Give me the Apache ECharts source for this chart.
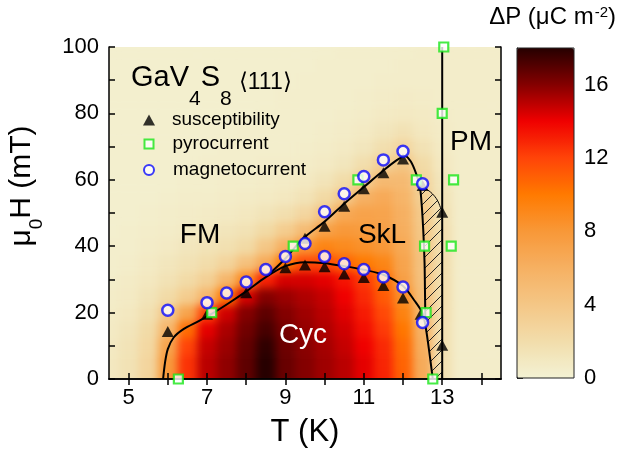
<!DOCTYPE html>
<html>
<head>
<meta charset="utf-8">
<script src="https://cdn.jsdelivr.net/npm/echarts@6.0.0/dist/echarts.min.js"></script>
<style>
  html, body { margin: 0; padding: 0; background: #fff; }
  #wrap { position: relative; width: 617px; height: 453px; }
  #heatclip { position: absolute; left: 109px; top: 47px; width: 392px; height: 332px; overflow: hidden; background: #f3f2d4; }
  #heat { position: absolute; left: -109px; top: -47px; width: 617px; height: 453px; filter: blur(4px); }
  #chart { position: absolute; left: 0; top: 0; width: 617px; height: 453px; }
</style>
</head>
<body>
<div id="wrap">
  <div id="heatclip"><div id="heat"></div></div>
  <div id="chart"></div>
</div>
<script>
const FONT = '"Liberation Sans", Arial, sans-serif';

// delta P map at cell centres (T in K, H in mT)
const heatT = [4.5, 5, 5.5, 6, 6.5, 7, 7.5, 8, 8.5, 9, 9.5, 10, 10.5, 11, 11.5, 12, 12.5, 13, 13.5, 14, 14.5];
const heatH = [0, 5, 10, 15, 20, 25, 30, 35, 40, 45, 50, 55, 60, 65, 70, 75, 80, 85, 90, 95, 100];
const heatRows = [
  [1.0,1.5,2.8,8.0,12.5,15.0,15.8,16.8,18.0,16.6,16.0,15.5,15.0,14.2,13.0,11.0,6.5,1.7,0.5,0.5,0.5],
  [1.0,1.5,2.7,7.8,12.5,15.0,15.8,16.8,18.0,16.6,16.0,15.5,15.0,14.2,12.9,10.8,6.4,1.7,0.5,0.5,0.5],
  [0.9,1.4,2.5,7.0,12.0,14.8,15.6,16.7,17.8,16.5,15.9,15.4,14.8,14.0,12.8,10.6,6.2,1.7,0.5,0.5,0.5],
  [0.8,1.2,2.2,5.5,10.5,14.2,15.3,16.4,17.3,16.3,15.7,15.2,14.6,13.6,12.3,10.1,5.8,1.7,0.5,0.5,0.5],
  [0.7,1.0,1.7,3.8,7.0,12.0,14.6,16.0,16.8,16.0,15.5,15.0,14.3,13.2,11.8,9.4,5.3,1.8,0.5,0.5,0.5],
  [0.6,0.8,1.3,2.2,3.5,5.5,10.0,14.5,16.0,15.6,15.2,14.8,14.0,12.8,11.2,8.6,4.8,1.9,0.5,0.5,0.5],
  [0.5,0.7,1.0,1.5,2.2,3.2,5.5,9.0,13.0,14.5,14.5,14.2,13.4,12.3,10.5,7.4,4.5,1.9,0.5,0.5,0.5],
  [0.4,0.5,0.8,1.1,1.5,2.0,2.8,4.5,6.5,10.0,11.8,11.8,10.8,10.0,9.2,7.0,4.4,1.9,0.5,0.5,0.5],
  [0.4,0.4,0.6,0.8,1.1,1.4,1.7,2.3,4.0,6.0,8.2,9.3,8.9,8.5,8.0,6.6,4.2,1.8,0.5,0.5,0.5],
  [0.3,0.4,0.5,0.6,0.8,1.0,1.2,1.5,2.3,3.5,5.0,7.2,7.9,7.7,7.3,6.2,4.0,1.8,0.5,0.5,0.5],
  [0.3,0.3,0.4,0.5,0.6,0.7,0.8,1.0,1.3,1.8,2.6,4.3,6.6,7.1,7.0,6.0,3.8,1.6,0.5,0.5,0.5],
  [0.3,0.3,0.3,0.4,0.5,0.5,0.6,0.7,0.8,1.0,1.4,2.3,3.8,5.9,6.5,5.6,3.3,1.4,0.5,0.5,0.5],
  [0.3,0.3,0.3,0.3,0.4,0.4,0.5,0.5,0.6,0.7,0.9,1.3,2.1,3.4,5.1,5.1,2.8,1.2,0.5,0.5,0.5],
  [0.3,0.3,0.3,0.3,0.3,0.4,0.4,0.4,0.5,0.5,0.6,0.8,1.1,1.9,3.2,4.1,2.2,1.0,0.5,0.5,0.5],
  [0.3,0.3,0.3,0.3,0.3,0.3,0.4,0.4,0.4,0.4,0.5,0.6,0.8,1.1,1.8,2.6,1.5,0.8,0.5,0.5,0.5],
  [0.3,0.3,0.3,0.3,0.3,0.3,0.3,0.4,0.4,0.4,0.4,0.5,0.6,0.8,1.1,1.5,1.0,0.7,0.5,0.5,0.5],
  [0.3,0.3,0.3,0.3,0.3,0.3,0.3,0.3,0.4,0.4,0.4,0.4,0.5,0.6,0.8,0.9,0.8,0.6,0.5,0.5,0.5],
  [0.3,0.3,0.3,0.3,0.3,0.3,0.3,0.3,0.3,0.4,0.4,0.4,0.4,0.5,0.6,0.7,0.6,0.5,0.5,0.5,0.5],
  [0.3,0.3,0.3,0.3,0.3,0.3,0.3,0.3,0.3,0.3,0.4,0.4,0.4,0.4,0.5,0.5,0.5,0.5,0.5,0.5,0.5],
  [0.3,0.3,0.3,0.3,0.3,0.3,0.3,0.3,0.3,0.3,0.3,0.4,0.4,0.4,0.4,0.5,0.5,0.5,0.5,0.5,0.5],
  [0.3,0.3,0.3,0.3,0.3,0.3,0.3,0.3,0.3,0.3,0.3,0.3,0.4,0.4,0.4,0.4,0.5,0.5,0.5,0.5,0.5]
];

// measured points
const suscT = [6, 7, 8, 9, 9.5, 10, 10.5, 11, 11.5, 12, 12.45, 9.5, 10, 10.5, 11, 11.5, 12, 12.5, 13, 13];
const suscH = [14.3, 19.5, 26, 33.5, 34.3, 33.8, 31.6, 30.6, 28.2, 24.4, 19.5, 42.4, 46, 52, 57.3, 62.1, 66.3, 58.3, 50.2, 10.2];
const pyroT = [6.27, 7.12, 9.2, 10.85, 12.34, 12.55, 12.59, 12.76, 13.0, 13.04, 13.29, 13.23];
const pyroH = [0, 20, 40, 60, 60, 40, 20, 0, 80, 100, 60, 40];
const magT = [6, 7, 7.5, 8, 8.5, 9, 9.5, 10, 10.5, 11, 11.5, 12, 12.5, 10, 10.5, 11, 11.5, 12, 12.5];
const magH = [20.7, 23, 25.9, 29.2, 33, 36.9, 40.8, 36.9, 34.7, 33, 30.7, 27.7, 17, 50.4, 55.8, 61, 66, 68.6, 58.8];

// phase boundaries
const lowerT = [5.88, 5.93, 6.0, 6.15, 6.4, 6.8, 7.2, 7.6, 8.0, 8.5, 9.0, 9.5, 10.0, 10.5, 11.0, 11.5, 12.0, 12.3, 12.5, 12.58, 12.64, 12.7, 12.76];
const lowerH = [0, 5, 9, 12.5, 15, 17.5, 20.2, 23.2, 26.4, 30.7, 34.0, 35.2, 34.9, 34.0, 32.9, 31.4, 28.0, 23.5, 19.8, 15.5, 10.8, 5.5, 0];
const upperT = [8.55, 9.0, 9.45, 10.0, 10.5, 11.0, 11.5, 11.85, 12.05, 12.2, 12.33, 12.43, 12.48, 12.52, 12.55, 12.56, 12.57];
const upperH = [31.2, 36.3, 42.3, 47.4, 52.8, 57.8, 62.8, 66.0, 67.2, 65.5, 62.0, 58.0, 52.0, 44.0, 35.0, 27.0, 18.0];
const pmT = [13, 13];
const pmH = [0, 100];
const arcT = [12.45, 12.62, 12.78, 12.9, 13.0];
const arcH = [58.0, 57.0, 55.4, 53.3, 50.0];
const hatchT = [12.43, 12.48, 12.52, 12.55, 12.56, 12.57, 12.64, 12.7, 12.76, 13.0, 13.0, 12.9, 12.78, 12.62];
const hatchH = [58.0, 52.0, 44.0, 35.0, 27.0, 18.0, 10.8, 5.5, 0, 0, 50.0, 53.3, 55.4, 57.0];

const xTicks = [5, 6, 7, 8, 9, 10, 11, 12, 13, 14];
const xLabels = [5, 7, 9, 11, 13];
const heatColors = ['#f3f2d4','#f2ddab','#f4c786','#f6b062','#f89838','#ff7a00','#ff4408','#f00000','#840000','#260000'];

const pairs = (xs, ys) => xs.map((x, i) => [x, ys[i]]);

const heatData = [];
heatRows.forEach((row, i) => row.forEach((v, j) => heatData.push([heatT[j], heatH[i], v])));

const plot = { left: 109, top: 47, width: 392, height: 332 };

// heat layer (blurred by css underneath the main chart)
const heat = echarts.init(document.getElementById('heat'));
heat.setOption({
  animation: false,
  grid: plot,
  xAxis: { type: 'value', min: 4.5, max: 14.5, show: false },
  yAxis: { type: 'value', min: 0, max: 100, show: false },
  visualMap: { show: false, type: 'continuous', min: 0, max: 18, dimension: 2, inRange: { color: heatColors } },
  series: [{
    type: 'custom',
    data: heatData,
    renderItem: (params, api) => {
      const t = api.value(0), h = api.value(1);
      const a = api.coord([t - 0.25, h + 2.5]);
      const b = api.coord([t + 0.25, h - 2.5]);
      return {
        type: 'rect',
        shape: { x: a[0], y: a[1], width: b[0] - a[0] + 0.6, height: b[1] - a[1] + 0.6 },
        style: { fill: api.visual('color') }
      };
    }
  }]
});

// hatch tile
const tile = document.createElement('canvas');
tile.width = 11; tile.height = 11;
const tc = tile.getContext('2d');
tc.strokeStyle = '#222'; tc.lineWidth = 1;
tc.beginPath();
tc.moveTo(0, 11); tc.lineTo(11, 0);
tc.moveTo(-1, 1); tc.lineTo(1, -1);
tc.moveTo(10, 12); tc.lineTo(12, 10);
tc.stroke();

const chart = echarts.init(document.getElementById('chart'));
const axisLine = { show: true, lineStyle: { color: '#000', width: 1.5 } };
const tickIn = { show: true, inside: true, length: 6, lineStyle: { color: '#000', width: 1.5 } };
const lineStyle = { color: '#000', width: 2 };

chart.setOption({
  animation: false,
  backgroundColor: 'transparent',
  textStyle: { fontFamily: FONT },
  grid: [
    plot,
    { left: 517, top: 48, width: 57, height: 330, show: true, backgroundColor: 'transparent', borderColor: '#222', borderWidth: 1, z: 5 }
  ],
  xAxis: [
    { gridIndex: 0, type: 'value', min: 4.5, max: 14.5, position: 'bottom', axisLine,
      axisTick: { ...tickIn, customValues: xTicks },
      axisLabel: { customValues: xLabels, fontSize: 22, color: '#000', margin: 8, fontFamily: FONT },
      splitLine: { show: false },
      name: 'T (K)', nameLocation: 'middle', nameGap: 38,
      nameTextStyle: { fontSize: 31, color: '#000', fontFamily: FONT } },
    { gridIndex: 0, type: 'value', min: 4.5, max: 14.5, position: 'top', axisLine,
      axisTick: { ...tickIn, customValues: xTicks }, axisLabel: { show: false }, splitLine: { show: false } },
    { gridIndex: 1, type: 'value', show: false }
  ],
  yAxis: [
    { gridIndex: 0, type: 'value', min: 0, max: 100, interval: 10, position: 'left', axisLine, axisTick: tickIn,
      axisLabel: { fontSize: 22, color: '#000', margin: 10, fontFamily: FONT, formatter: v => (v % 20 === 0 ? v : '') },
      splitLine: { show: false } },
    { gridIndex: 0, type: 'value', min: 0, max: 100, interval: 10, position: 'right', axisLine, axisTick: tickIn,
      axisLabel: { show: false }, splitLine: { show: false } },
    { gridIndex: 1, type: 'value', min: 0, max: 18, interval: 2, position: 'right',
      axisLine: { show: true, lineStyle: { color: '#222', width: 1 } },
      axisTick: { show: true, inside: false, length: 6, lineStyle: { color: '#222', width: 1 } },
      axisLabel: { fontSize: 22, color: '#000', margin: 10, fontFamily: FONT, formatter: v => (v % 4 === 0 ? v : '') },
      splitLine: { show: false } }
  ],
  visualMap: {
    type: 'continuous', min: 0, max: 18, seriesIndex: [], calculable: false, orient: 'vertical',
    left: 517, top: 48, itemWidth: 57, itemHeight: 330, padding: 0, text: null,
    inRange: { color: heatColors }, z: 2
  },
  legend: [
    { data: ['susceptibility'], left: 143, top: 110.5, padding: 0, itemWidth: 12, itemHeight: 11, selectedMode: false,
      textStyle: { fontSize: 19, color: '#000', fontFamily: FONT, padding: [0, 0, 0, 12] } },
    { data: ['pyrocurrent'], left: 143.5, top: 134.5, padding: 0, itemWidth: 9, itemHeight: 9, selectedMode: false,
      textStyle: { fontSize: 19, color: '#000', fontFamily: FONT, padding: [0, 0, 0, 14] } },
    { data: ['magnetocurrent'], left: 143, top: 160.5, padding: 0, itemWidth: 10, itemHeight: 10, selectedMode: false,
      textStyle: { fontSize: 19, color: '#000', fontFamily: FONT, padding: [0, 0, 0, 14] } }
  ],
  graphic: [
    { type: 'text', x: 131, y: 63, z: 10, silent: true,
      style: { text: '{m|GaV}{s|4}{m|S}{s|8}{b|⟨111⟩}', fill: '#000', verticalAlign: 'top',
        rich: {
          m: { fontSize: 29, lineHeight: 34, verticalAlign: 'top', fontFamily: FONT },
          s: { fontSize: 21, lineHeight: 21, padding: [26, 0, 0, 0], verticalAlign: 'top', fontFamily: FONT },
          b: { fontSize: 23, lineHeight: 23, padding: [8, 0, 0, 7], verticalAlign: 'top', fontFamily: FONT }
        } } },
    { type: 'text', x: 200, y: 235, z: 10, silent: true,
      style: { text: 'FM', fontSize: 28, fontFamily: FONT, fill: '#000', align: 'center', verticalAlign: 'middle' } },
    { type: 'text', x: 382, y: 235, z: 10, silent: true,
      style: { text: 'SkL', fontSize: 28, fontFamily: FONT, fill: '#000', align: 'center', verticalAlign: 'middle' } },
    { type: 'text', x: 471, y: 142.5, z: 10, silent: true,
      style: { text: 'PM', fontSize: 28, fontFamily: FONT, fill: '#000', align: 'center', verticalAlign: 'middle' } },
    { type: 'text', x: 303, y: 335, z: 10, silent: true,
      style: { text: 'Cyc', fontSize: 28, fontFamily: FONT, fill: '#fff', align: 'center', verticalAlign: 'middle' } },
    { type: 'text', x: 7, y: 186, rotation: Math.PI / 2, z: 10, silent: true,
      style: { text: '{a|μ}{s|0}{a|H (mT)}', fill: '#000', align: 'center', verticalAlign: 'top',
        rich: {
          a: { fontSize: 30, lineHeight: 34, verticalAlign: 'top', fontFamily: FONT },
          s: { fontSize: 19, lineHeight: 19, padding: [20, 0, 0, 0], verticalAlign: 'top', fontFamily: FONT }
        } } },
    { type: 'text', x: 616, y: 5, z: 10, silent: true,
      style: { text: '{a|ΔP (μC m}{s|-2}{a|)}', fill: '#000', align: 'right', verticalAlign: 'top',
        rich: {
          a: { fontSize: 24, lineHeight: 28, verticalAlign: 'top', fontFamily: FONT },
          s: { fontSize: 15, lineHeight: 12, padding: [0, 0, 0, 1], verticalAlign: 'top', fontFamily: FONT }
        } } }
  ],
  series: [
    { type: 'custom', name: 'hatch', xAxisIndex: 0, yAxisIndex: 0, z: 1, silent: true,
      data: pairs(hatchT, hatchH),
      renderItem: (params, api) => {
        if (params.dataIndex !== 0) return null;
        const pts = hatchT.map((t, i) => api.coord([t, hatchH[i]]));
        return { type: 'polygon', shape: { points: pts }, style: { fill: { image: tile, repeat: 'repeat' }, stroke: null } };
      } },
    { type: 'line', name: 'lower', data: pairs(lowerT, lowerH), smooth: 0.3, symbol: 'none', lineStyle, z: 2, silent: true },
    { type: 'line', name: 'upper', data: pairs(upperT, upperH), smooth: 0.3, symbol: 'none', lineStyle, z: 2, silent: true },
    { type: 'line', name: 'pm', data: pairs(pmT, pmH), symbol: 'none', lineStyle, z: 2, silent: true },
    { type: 'line', name: 'arc', data: pairs(arcT, arcH), smooth: 0.4, symbol: 'none', lineStyle: { color: '#000', width: 1 }, z: 2, silent: true },
    { type: 'scatter', name: 'susceptibility', data: pairs(suscT, suscH), symbol: 'triangle', symbolSize: [12, 11],
      itemStyle: { color: '#000' }, z: 3 },
    { type: 'scatter', name: 'pyrocurrent', data: pairs(pyroT, pyroH), symbol: 'rect', symbolSize: 9,
      itemStyle: { color: '#fff', borderColor: '#18e618', borderWidth: 2.2 }, z: 4 },
    { type: 'scatter', name: 'magnetocurrent', data: pairs(magT, magH), symbol: 'circle', symbolSize: 11,
      itemStyle: { color: '#fff', borderColor: '#0a0aff', borderWidth: 2.5 }, z: 5 }
  ]
});
</script>
</body>
</html>
